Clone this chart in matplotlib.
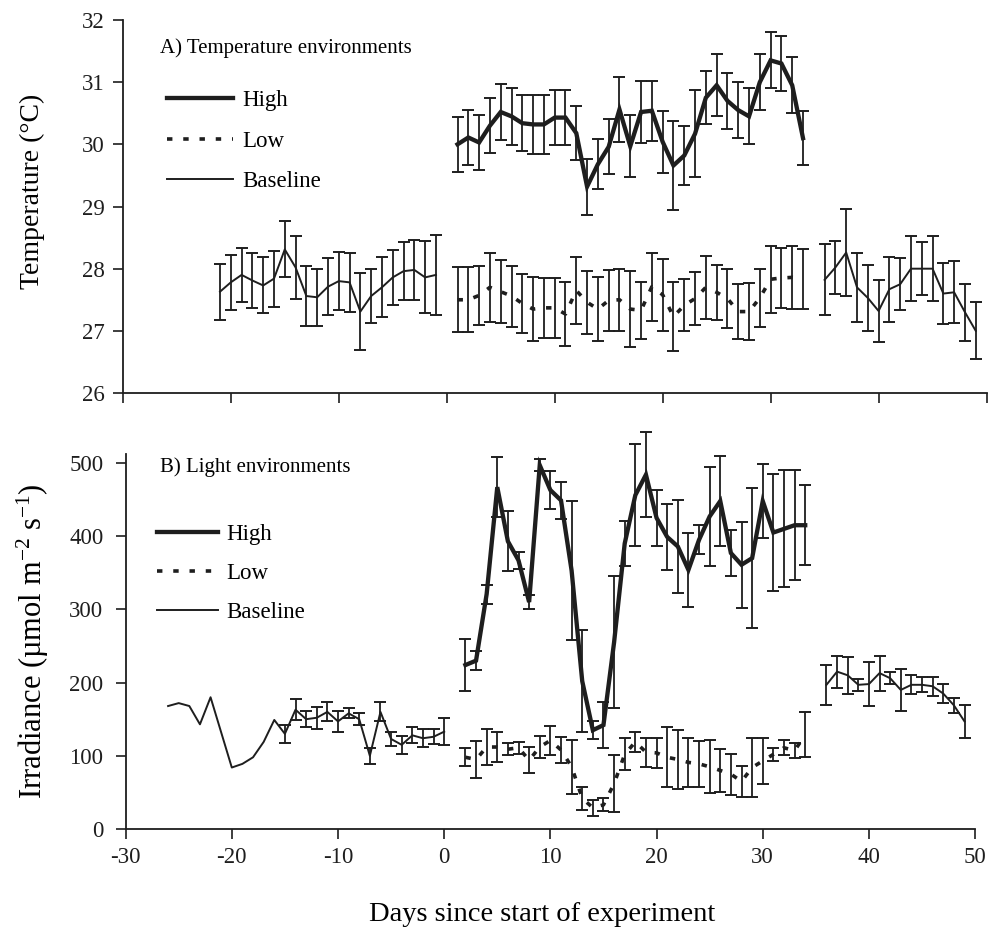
import numpy as np
import matplotlib
matplotlib.use("Agg")
import matplotlib.pyplot as plt
from matplotlib.lines import Line2D

plt.rcParams["font.family"] = ["Liberation Serif", "DejaVu Serif"]
plt.rcParams["mathtext.fontset"] = "custom"
plt.rcParams["mathtext.rm"] = "Liberation Serif"
plt.rcParams["mathtext.it"] = "Liberation Serif:italic"
plt.rcParams["axes.unicode_minus"] = False

INK = "#1e1e1e"

# ---- A) temperature (deg C), mean and error per day ----
temp_high_days = np.arange(1, 34)
temp_high = [30.00, 30.11, 30.03, 30.30, 30.52, 30.45, 30.34, 30.32, 30.32, 30.43,
             30.43, 30.18, 29.32, 29.68, 29.96, 30.56, 29.97, 30.52, 30.54, 30.04,
             29.66, 29.82, 30.17, 30.75, 30.95, 30.70, 30.55, 30.45, 31.00, 31.35,
             31.30, 30.95, 30.10]
temp_high_err = [0.44, 0.45, 0.44, 0.44, 0.45, 0.46, 0.45, 0.48, 0.48, 0.44,
                 0.44, 0.44, 0.45, 0.40, 0.44, 0.52, 0.50, 0.50, 0.48, 0.50,
                 0.72, 0.47, 0.70, 0.43, 0.50, 0.45, 0.45, 0.45, 0.45, 0.45,
                 0.45, 0.45, 0.43]

temp_low_days = np.arange(1, 34)
temp_low = [27.50, 27.50, 27.57, 27.70, 27.63, 27.56, 27.44, 27.35, 27.37, 27.37,
            27.27, 27.65, 27.46, 27.35, 27.49, 27.50, 27.35, 27.33, 27.71, 27.58,
            27.23, 27.41, 27.52, 27.70, 27.62, 27.52, 27.31, 27.31, 27.53, 27.83,
            27.85, 27.86, 27.83]
temp_low_err = [0.52, 0.52, 0.48, 0.55, 0.51, 0.49, 0.48, 0.51, 0.48, 0.48,
                0.51, 0.54, 0.51, 0.51, 0.49, 0.50, 0.61, 0.46, 0.55, 0.58,
                0.56, 0.42, 0.42, 0.51, 0.44, 0.48, 0.44, 0.46, 0.47, 0.54,
                0.49, 0.51, 0.48]

temp_base_pre_days = np.arange(-21, 0)
temp_base_pre = [27.63, 27.78, 27.90, 27.81, 27.73, 27.84, 28.31, 28.02, 27.56, 27.54,
                 27.71, 27.80, 27.78, 27.31, 27.56, 27.70, 27.86, 27.96, 27.98, 27.86,
                 27.90]
temp_base_pre_err = [0.45, 0.44, 0.44, 0.44, 0.45, 0.45, 0.45, 0.50, 0.48, 0.46,
                     0.46, 0.47, 0.47, 0.62, 0.43, 0.48, 0.44, 0.47, 0.48, 0.58,
                     0.64]

temp_base_post_days = np.arange(35, 50)
temp_base_post = [27.82, 28.02, 28.26, 27.70, 27.53, 27.32, 27.67, 27.75, 28.00, 28.00,
                  28.00, 27.60, 27.62, 27.30, 27.00]
temp_base_post_err = [0.57, 0.42, 0.70, 0.55, 0.53, 0.50, 0.52, 0.42, 0.52, 0.43,
                      0.52, 0.49, 0.50, 0.46, 0.46]

# ---- B) irradiance (umol m-2 s-1) ----
light_high_days = np.arange(2, 35)
light_high = [224, 230, 321, 467, 393, 367, 310, 497, 463, 449,
              353, 202, 135, 142, 255, 390, 456, 484, 425, 399,
              386, 354, 395, 427, 448, 377, 361, 370, 448, 405,
              410, 415, 415]
light_high_err = [35, 13, 13, 41, 41, 12, 10, 8, 26, 25,
                  95, 70, 12, 31, 90, 31, 70, 58, 38, 45,
                  64, 51, 20, 68, 62, 32, 59, 96, 50, 80,
                  80, 75, 55]

light_low_days = np.arange(2, 35)
light_low = [98, 95, 112, 112, 109, 111, 94, 112, 121, 108,
             85, 42, 29, 33, 62, 102, 119, 105, 104, 98,
             95, 91, 89, 85, 80, 75, 65, 84, 93, 102,
             111, 107, 129]
light_low_err = [12, 25, 24, 20, 8, 8, 18, 15, 20, 18,
                 37, 16, 11, 9, 39, 22, 14, 20, 20, 41,
                 40, 34, 31, 36, 29, 28, 21, 40, 31, 9,
                 10, 10, 31]

light_base_pre_days = [-26, -25, -24, -23, -22, -20, -19, -18, -17, -16,
                       -15, -14, -13, -12, -11, -10, -9, -8, -7, -6,
                       -5, -4, -3, -2, -1, 0]
light_base_pre = [168, 172, 168, 143, 180, 84, 89, 98, 119, 149,
                  130, 163, 150, 152, 160, 147, 158, 150, 100, 160,
                  123, 115, 128, 124, 126, 133]
# no error bars were recorded before day -15
light_base_pre_err = [np.nan] * 10 + [12, 14, 11, 15, 13, 14, 7, 8, 11, 13,
                                      10, 12, 11, 12, 10, 18]

light_base_post_days = np.arange(36, 50)
light_base_post = [197, 215, 210, 197, 198, 213, 206, 190, 197, 197,
                   195, 185, 169, 147]
light_base_post_err = [27, 22, 25, 8, 30, 24, 8, 29, 13, 10,
                       13, 13, 10, 23]

LOW_DASH = (1.5, 3.0)
LEGEND_LABELS = ["High", "Low", "Baseline"]


def draw_errs(ax, days, mean, err, z=2):
    days = np.asarray(days, float)
    mean = np.asarray(mean, float)
    err = np.asarray(err, float)
    ok = ~np.isnan(err)
    ax.errorbar(days[ok], mean[ok], yerr=err[ok], fmt="none", ecolor=INK,
                elinewidth=1.3, capsize=4.3, capthick=1.4, zorder=z, clip_on=False)


def draw_panel(ax, high, low, base_parts):
    hd, hm, he = high
    ld, lm, le = low
    for bd, bm, be in base_parts:
        draw_errs(ax, bd, bm, be)
        ax.plot(bd, bm, color=INK, lw=1.4, zorder=3)
    draw_errs(ax, ld, lm, le)
    ax.plot(ld, lm, color=INK, lw=2.6, linestyle=(0, LOW_DASH), zorder=3)
    draw_errs(ax, hd, hm, he)
    ax.plot(hd, hm, color=INK, lw=3.1, zorder=4, solid_joinstyle="miter")

    for side in ("top", "right"):
        ax.spines[side].set_visible(False)
    for side in ("left", "bottom"):
        ax.spines[side].set_linewidth(1.3)
        ax.spines[side].set_color(INK)
    ax.tick_params(direction="out", length=7, width=1.2, colors=INK,
                   labelsize=16.5, pad=6)
    ax.set_xlim(-30, 50)
    ax.set_xticks(np.arange(-30, 51, 10))

    handles = [Line2D([], [], color=INK, lw=3.1),
               Line2D([], [], color=INK, lw=2.6, linestyle=(0, LOW_DASH)),
               Line2D([], [], color=INK, lw=1.4)]
    return handles


fig = plt.figure(figsize=(9.93, 9.34), dpi=100)
ax_t = fig.add_axes([0.1237, 0.5792, 0.8698, 0.3994])
ax_l = fig.add_axes([0.1265, 0.1124, 0.8555, 0.4013])

h = draw_panel(ax_t,
               (temp_high_days, temp_high, temp_high_err),
               (temp_low_days, temp_low, temp_low_err),
               [(temp_base_pre_days, temp_base_pre, temp_base_pre_err),
                (temp_base_post_days, temp_base_post, temp_base_post_err)])
ax_t.set_ylim(26, 32)
ax_t.set_yticks(np.arange(26, 33, 1))
ax_t.tick_params(axis="x", labelbottom=False)
ax_t.set_ylabel("Temperature (\u00b0C)", fontsize=20)
ax_t.yaxis.set_label_coords(-0.090, 0.54)
ax_t.text(0.043, 0.925, "A) Temperature environments", transform=ax_t.transAxes,
          fontsize=15, va="center", ha="left", color="black")
ax_t.legend(h, LEGEND_LABELS, loc="upper left",
            bbox_to_anchor=(0.051, 0.812), frameon=False, fontsize=16.5,
            handlelength=2.9, handletextpad=0.38, labelspacing=0.85,
            borderpad=0, borderaxespad=0)

h = draw_panel(ax_l,
               (light_high_days, light_high, light_high_err),
               (light_low_days, light_low, light_low_err),
               [(light_base_pre_days, light_base_pre, light_base_pre_err),
                (light_base_post_days, light_base_post, light_base_post_err)])
ax_l.set_ylim(0, 512)
ax_l.set_yticks(np.arange(0, 501, 100))
ax_l.tick_params(axis="y", pad=9)
ax_l.set_ylabel("Irradiance (\u00b5mol m$^{-2}$ s$^{-1}$)", fontsize=22)
ax_l.yaxis.set_label_coords(-0.088, 0.50)
ax_l.set_xlabel("Days since start of experiment", fontsize=20.5)
ax_l.xaxis.set_label_coords(0.49, -0.196)
ax_l.text(0.04, 0.965, "B) Light environments", transform=ax_l.transAxes,
          fontsize=15, va="center", ha="left", color="black")
ax_l.legend(h, LEGEND_LABELS, loc="upper left",
            bbox_to_anchor=(0.037, 0.815), frameon=False, fontsize=16.5,
            handlelength=2.66, handletextpad=0.35, labelspacing=0.8,
            borderpad=0, borderaxespad=0)

fig.savefig("out.png", dpi=100)
